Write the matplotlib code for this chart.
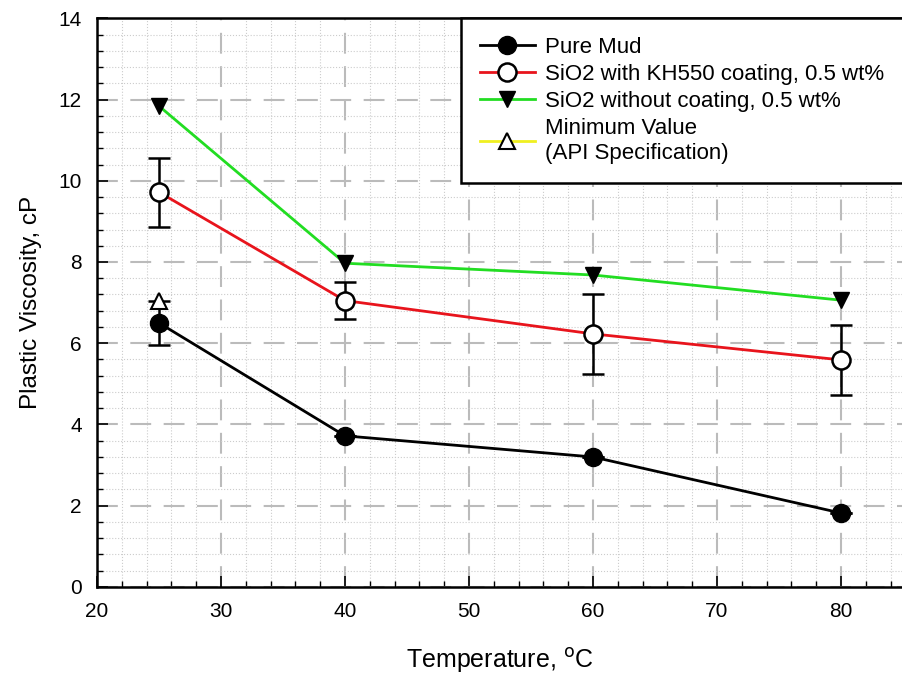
import matplotlib
matplotlib.use('Agg')
import matplotlib.pyplot as plt
from matplotlib.lines import Line2D
from matplotlib.ticker import MultipleLocator

plt.rcParams['font.family'] = ['Liberation Sans', 'DejaVu Sans']

temps = [25, 40, 60, 80]
pure_mud = [6.5, 3.72, 3.2, 1.82]
pure_mud_err = [0.55, 0, 0, 0]
kh550 = [9.72, 7.05, 6.23, 5.59]
kh550_err = [0.85, 0.45, 0.98, 0.87]
no_coat = [11.84, 7.97, 7.68, 7.06]
min_temp = [25]
min_value = [7.05]

labels = ['Pure Mud', 'SiO2 with KH550 coating, 0.5 wt%',
          'SiO2 without coating, 0.5 wt%', 'Minimum Value\n(API Specification)']

fig = plt.figure(figsize=(9.03, 6.77), dpi=100)
ax = fig.add_axes([0.1074, 0.133, 0.8926, 0.84])

ax.errorbar(temps, pure_mud, yerr=pure_mud_err, color='black', lw=2,
            marker='o', ms=13, mfc='black', mec='black',
            ecolor='black', elinewidth=1.8, capsize=8, capthick=1.8, zorder=4)
ax.errorbar(temps, kh550, yerr=kh550_err, color='#e8141c', lw=2,
            marker='o', ms=13, mfc='white', mec='black', mew=1.8,
            ecolor='black', elinewidth=1.8, capsize=8, capthick=1.8, zorder=4)
ax.plot(temps, no_coat, color='#22dd22', lw=2, marker='v', ms=11,
        mfc='black', mec='black', zorder=4)
ax.plot(min_temp, min_value, color='#f0f020', lw=2, marker='^', ms=11,
        mfc='white', mec='black', mew=1.5, zorder=4)

# legend entries without error bars
handles = [
    Line2D([], [], color='black', lw=2, marker='o', ms=13, mfc='black', mec='black'),
    Line2D([], [], color='#e8141c', lw=2, marker='o', ms=13, mfc='white', mec='black', mew=1.8),
    Line2D([], [], color='#22dd22', lw=2, marker='v', ms=11, mfc='black', mec='black'),
    Line2D([], [], color='#f0f020', lw=2, marker='^', ms=11, mfc='white', mec='black', mew=1.5),
]

ax.set_xlim(20, 85)
ax.set_ylim(0, 14)
ax.xaxis.set_major_locator(MultipleLocator(10))
ax.xaxis.set_minor_locator(MultipleLocator(2))
ax.yaxis.set_major_locator(MultipleLocator(2))
ax.yaxis.set_minor_locator(MultipleLocator(0.4))
ax.tick_params(which='both', direction='in', top=False, right=False,
               labelsize=15, pad=11)
ax.tick_params(which='major', length=8, width=1.2)
ax.tick_params(which='minor', length=4, width=1)
ax.set_xticks([20, 30, 40, 50, 60, 70, 80])

ax.grid(which='major', color='#bbbbbb', linestyle=(0, (10, 6)), lw=1.5)
ax.grid(which='minor', color='#cccccc', linestyle=':', lw=0.8)
ax.set_axisbelow(True)

for s in ['left', 'bottom', 'top']:
    ax.spines[s].set_linewidth(1.8)
ax.spines['right'].set_visible(False)

ax.set_xlabel(r'Temperature, $^{\rm o}$C', fontsize=18, labelpad=18)
ax.set_ylabel('Plastic Viscosity, cP', fontsize=17.5, labelpad=12)

leg = ax.legend(handles, labels, loc='upper left', mode='expand',
                bbox_to_anchor=(0.452, 0.0, 0.56, 1.0), fontsize=16,
                frameon=True, fancybox=False, edgecolor='black',
                framealpha=1, handlelength=2.45, handletextpad=0.45,
                borderpad=0.85, labelspacing=0.26, borderaxespad=0)
leg.get_frame().set_linewidth(1.8)
leg.get_texts()[3].set_linespacing(1.3)

fig.savefig('out.png', dpi=100)
